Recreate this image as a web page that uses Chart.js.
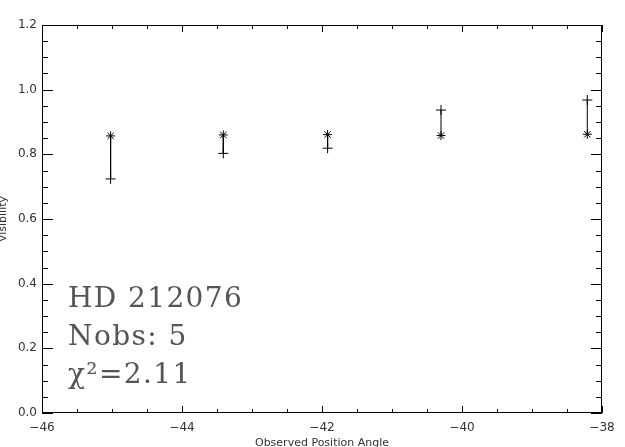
<!DOCTYPE html>
<html>
<head>
<meta charset="utf-8">
<script src="https://cdn.jsdelivr.net/npm/chart.js@4.4.1/dist/chart.umd.min.js"></script>
<style>
  html, body { margin: 0; padding: 0; background: #fff; }
  #wrap { width: 625px; height: 447px; position: relative; }
</style>
</head>
<body>
<div id="wrap"><canvas id="chart1"></canvas></div>
<script>
    // values
    const angles = [-45.02, -43.41, -41.92, -40.30, -38.21]
    const visibility = [0.857, 0.860, 0.861, 0.858, 0.862]
    const modelVis = [0.724, 0.803, 0.819, 0.937, 0.968]
    const xTicks = [-46, -44, -42, -40, -38]
    const yTicks = [0.0, 0.2, 0.4, 0.6, 0.8, 1.0, 1.2]
    const notes = ['HD 212076', 'Nobs: 5', '\u03c7\u00b2=2.11']

    const points = angles.map((a, i) => ({ x: a, y: visibility[i] }))
    const models = angles.map((a, i) => ({ x: a, y: modelVis[i] }))
    const bars = angles.flatMap((a, i) => [
        { x: a, y: visibility[i] }, { x: a, y: modelVis[i] }, { x: a, y: null }
    ])

    const idlFrame = {
        id: 'idlFrame',
        afterDraw(chart) {
            const ctx = chart.ctx
            const a = chart.chartArea
            const xs = chart.scales.x
            const ys = chart.scales.y
            ctx.save()
            ctx.strokeStyle = '#000'
            ctx.lineWidth = 1
            ctx.strokeRect(Math.round(a.left) + 0.5, Math.round(a.top) + 0.5,
                Math.round(a.width) - 1, Math.round(a.height) - 1)

            ctx.beginPath()
            const xMin = xTicks[0], xMax = xTicks[xTicks.length - 1]
            for (let k = 0; xMin + k * 0.5 <= xMax + 1e-9; k++) {
                const px = Math.round(xs.getPixelForValue(xMin + k * 0.5)) + 0.5
                const len = k % 4 === 0 ? 7 : 4
                ctx.moveTo(px, a.bottom); ctx.lineTo(px, a.bottom - len)
                ctx.moveTo(px, a.top); ctx.lineTo(px, a.top + len)
            }
            const yMin = yTicks[0], yMax = yTicks[yTicks.length - 1]
            for (let k = 0; yMin + k * 0.05 <= yMax + 1e-9; k++) {
                const py = Math.round(ys.getPixelForValue(yMin + k * 0.05)) + 0.5
                const len = k % 4 === 0 ? 11 : 6
                ctx.moveTo(a.left, py); ctx.lineTo(a.left + len, py)
                ctx.moveTo(a.right, py); ctx.lineTo(a.right - len, py)
            }
            ctx.stroke()

            // axis titles
            ctx.fillStyle = '#333'
            ctx.font = '11px "DejaVu Sans"'
            ctx.textAlign = 'center'
            ctx.textBaseline = 'top'
            ctx.fillText('Observed Position Angle', (a.left + a.right) / 2, 438)
            ctx.translate(6, (a.top + a.bottom) / 2)
            ctx.rotate(-Math.PI / 2)
            ctx.textBaseline = 'alphabetic'
            ctx.fillText('Visibility', 0, 0)
            ctx.restore()

            // annotation
            ctx.save()
            ctx.fillStyle = '#555'
            ctx.font = '28px "DejaVu Serif"'
            ctx.letterSpacing = '1.4px'
            ctx.textAlign = 'left'
            ctx.textBaseline = 'alphabetic'
            notes.forEach((t, i) => ctx.fillText(t, 68, 307 + i * 38))
            ctx.restore()
        }
    }

    const data = {
        datasets: [
            {
                data: bars,
                showLine: true,
                spanGaps: false,
                borderColor: '#000',
                borderWidth: 1,
                pointRadius: 0
            },
            {
                data: points,
                pointStyle: 'star',
                pointRadius: 4.5,
                borderColor: '#000',
                borderWidth: 1,
                backgroundColor: '#000'
            },
            {
                data: models,
                pointStyle: 'cross',
                pointRadius: 5,
                borderColor: '#000',
                borderWidth: 1
            }
        ]
    }

    const options = {
        responsive: true,
        maintainAspectRatio: false,
        animation: false,
        layout: { padding: { top: 25, right: 23, left: 0, bottom: 0 } },
        plugins: {
            legend: { display: false },
            tooltip: { enabled: false }
        },
        scales: {
            x: {
                type: 'linear',
                min: xTicks[0],
                max: xTicks[xTicks.length - 1],
                grid: { display: false, drawTicks: false },
                border: { display: false },
                ticks: {
                    stepSize: 2,
                    padding: 8,
                    color: '#333',
                    font: { family: 'DejaVu Sans', size: 12 },
                    maxRotation: 0,
                    callback: v => String(v).replace('-', '\u2212')
                },
                afterFit: s => { s.height = 34 }
            },
            y: {
                min: yTicks[0],
                max: yTicks[yTicks.length - 1],
                grid: { display: false, drawTicks: false },
                border: { display: false },
                ticks: {
                    stepSize: 0.2,
                    padding: 5,
                    color: '#333',
                    font: { family: 'DejaVu Sans', size: 12 },
                    callback: v => Number(v).toFixed(1)
                },
                afterFit: s => { s.width = 42 }
            }
        }
    }

    new Chart('chart1', { type: 'scatter', data, options, plugins: [idlFrame] })
</script>
</body>
</html>
